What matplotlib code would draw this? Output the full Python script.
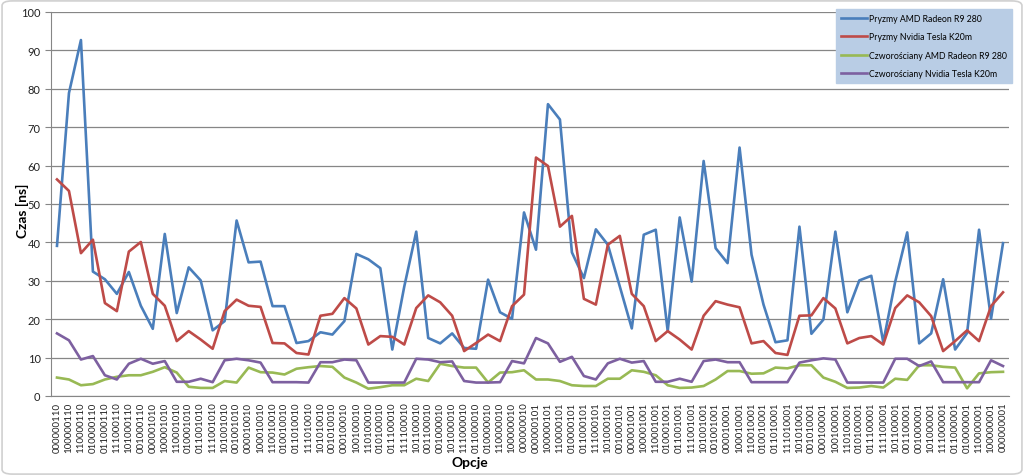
import matplotlib
matplotlib.use('Agg')
import matplotlib.pyplot as plt
from matplotlib.patches import FancyBboxPatch
import numpy as np

plt.rcParams['font.family'] = ['Lato', 'DejaVu Sans']

# Etykiety opcji (oś X)
opcje = ['000000110', '100000110', '110000110', '010000110', '011000110', '111000110', '101000110', '001000110',
         '000001010', '100001010', '110001010', '010001010', '011001010', '111001010', '101001010', '001001010',
         '000010010', '100010010', '110010010', '010010010', '011010010', '111010010', '101010010', '001010010',
         '000100010', '100100010', '110100010', '010100010', '011100010', '111100010', '101100010', '001100010',
         '001000010', '101000010', '111000010', '011000010', '010000010', '110000010', '100000010', '000000010',
         '000000101', '100000101', '110000101', '010000101', '011000101', '111000101', '101000101', '001000101',
         '000001001', '100001001', '110001001', '010001001', '011001001', '111001001', '101001001', '001001001',
         '000010001', '100010001', '110010001', '010010001', '011010001', '111010001', '101010001', '001010001',
         '000100001', '100100001', '110100001', '010100001', '011100001', '111100001', '101100001', '001100001',
         '001000001', '101000001', '111000001', '011000001', '010000001', '110000001', '100000001', '000000001']

# Czasy [ns]
pryzmy_amd = [39.1, 78.9, 92.7, 32.4, 30.4, 26.6, 32.3, 23.5, 17.5, 42.2, 21.6, 33.5, 30.1, 17.1, 19.5, 45.7,
              34.8, 35.0, 23.4, 23.4, 13.8, 14.3, 16.6, 16.0, 19.5, 37.0, 35.6, 33.3, 12.1, 28.5, 42.8, 15.1,
              13.7, 16.3, 12.5, 12.3, 30.3, 21.8, 20.1, 47.8, 38.1, 76.0, 72.0, 37.4, 30.7, 43.4, 39.4, 28.5,
              17.6, 42.0, 43.3, 16.9, 46.5, 29.8, 61.2, 38.5, 34.6, 64.7, 36.8, 23.8, 14.0, 14.5, 44.1, 16.2,
              19.9, 42.8, 21.8, 30.1, 31.3, 14.0, 29.8, 42.6, 13.7, 16.3, 30.4, 12.1, 16.4, 43.3, 20.1, 39.8]
pryzmy_nvidia = [56.4, 53.4, 37.2, 40.7, 24.2, 22.1, 37.6, 40.1, 26.6, 23.5, 14.3, 16.9, 14.7, 12.3, 22.1, 25.1,
                 23.5, 23.2, 13.8, 13.7, 11.2, 10.8, 20.9, 21.4, 25.5, 22.8, 13.4, 15.6, 15.4, 13.4, 22.9, 26.2,
                 24.4, 20.9, 11.7, 13.8, 16.0, 14.3, 23.4, 26.4, 62.1, 59.9, 44.1, 46.9, 25.3, 23.8, 39.4, 41.7,
                 26.6, 23.4, 14.3, 16.9, 14.7, 12.1, 20.9, 24.7, 23.8, 23.1, 13.7, 14.3, 11.2, 10.7, 20.9, 21.0,
                 25.5, 22.8, 13.7, 15.1, 15.6, 13.4, 22.9, 26.2, 24.4, 20.8, 11.7, 14.3, 17.1, 14.3, 23.4, 27.0]
czworosciany_amd = [4.8, 4.3, 2.8, 3.1, 4.3, 5.0, 5.4, 5.4, 6.3, 7.5, 6.1, 2.4, 2.1, 2.1, 3.9, 3.5,
                    7.4, 6.2, 6.1, 5.6, 7.1, 7.5, 7.8, 7.6, 4.8, 3.5, 1.9, 2.3, 2.8, 2.8, 4.5, 3.9,
                    8.4, 7.8, 7.4, 7.4, 3.5, 6.1, 6.2, 6.7, 4.3, 4.3, 3.9, 2.8, 2.6, 2.6, 4.5, 4.5,
                    6.7, 6.3, 5.4, 2.8, 2.1, 2.2, 2.6, 4.3, 6.5, 6.5, 5.8, 5.9, 7.4, 7.2, 8.0, 8.0,
                    4.8, 3.7, 2.1, 2.2, 2.6, 2.2, 4.5, 4.2, 8.0, 8.0, 7.6, 7.4, 2.0, 5.9, 6.2, 6.3]
czworosciany_nvidia = [16.3, 14.5, 9.5, 10.4, 5.4, 4.3, 8.4, 9.7, 8.4, 9.1, 3.7, 3.7, 4.5, 3.6, 9.3, 9.7,
                       9.3, 8.7, 3.6, 3.6, 3.6, 3.5, 8.8, 8.8, 9.5, 9.3, 3.5, 3.5, 3.5, 3.5, 9.7, 9.5,
                       8.8, 9.0, 3.9, 3.5, 3.5, 3.6, 9.1, 8.5, 15.1, 13.7, 8.9, 10.2, 5.2, 4.3, 8.5, 9.7,
                       8.7, 9.1, 3.7, 3.7, 4.5, 3.7, 9.1, 9.5, 8.8, 8.8, 3.6, 3.6, 3.6, 3.6, 8.7, 9.3,
                       9.8, 9.5, 3.5, 3.5, 3.5, 3.5, 9.7, 9.7, 7.8, 9.0, 3.6, 3.6, 3.6, 3.6, 9.3, 7.8]

x = np.arange(len(opcje))

fig = plt.figure(figsize=(10.24, 4.77), dpi=100)
# ramka wykresu (pod osiami)
fig.patches.append(FancyBboxPatch((0.002, 0.004), 0.996, 0.992, boxstyle='round,pad=0,rounding_size=0.01',
                                  transform=fig.transFigure, facecolor='none', edgecolor='#d0d0d0', lw=1.2,
                                  zorder=-5))
ax = fig.add_axes([51 / 1024, 80 / 477, 958 / 1024, 384 / 477])
ax.patch.set_alpha(0)

ax.plot(x, pryzmy_amd, color='#4a7ebb', lw=1.9, label='Pryzmy AMD Radeon R9 280')
ax.plot(x, pryzmy_nvidia, color='#be4b48', lw=1.9, label='Pryzmy Nvidia Tesla K20m')
ax.plot(x, czworosciany_amd, color='#98b954', lw=1.9, label='Czworościany AMD Radeon R9 280')
ax.plot(x, czworosciany_nvidia, color='#7d60a0', lw=1.9, label='Czworościany Nvidia Tesla K20m')

ax.set_xlim(-0.5, len(opcje) - 0.5)
ax.set_ylim(0, 100)
ax.set_yticks(range(0, 101, 10))
ax.set_xticks(x)
ax.set_xticklabels(opcje, rotation=90, fontsize=7, color='#222222')
ax.tick_params(axis='y', labelsize=8, colors='#222222', length=4, color='#868686')
ax.tick_params(axis='x', length=0, pad=4)
ax.grid(axis='y', color='#868686', lw=0.9)
ax.set_axisbelow(True)
for s in ['top', 'right']:
    ax.spines[s].set_visible(False)
ax.spines['left'].set_color('#868686')
ax.spines['bottom'].set_color('#868686')

fig.text(22 / 1024, (477 - 211) / 477, 'Czas [ns]', rotation=90, fontsize=10, fontweight='bold',
         ha='center', va='center')
fig.text(470 / 1024, (477 - 463) / 477, 'Opcje', fontsize=10, fontweight='bold', ha='center', va='center')

leg = ax.legend(loc='upper right', bbox_to_anchor=(1012 / 1024, 1 - 10 / 477), bbox_transform=fig.transFigure,
                fontsize=6.3, frameon=True, fancybox=False, handlelength=3.0, handletextpad=0.2,
                borderpad=0.6, labelspacing=1.05, borderaxespad=0)
leg.get_frame().set_facecolor('#b9cde5')
leg.get_frame().set_edgecolor('#b9cde5')
leg.get_frame().set_alpha(1)

fig.savefig('out.png', dpi=100)
